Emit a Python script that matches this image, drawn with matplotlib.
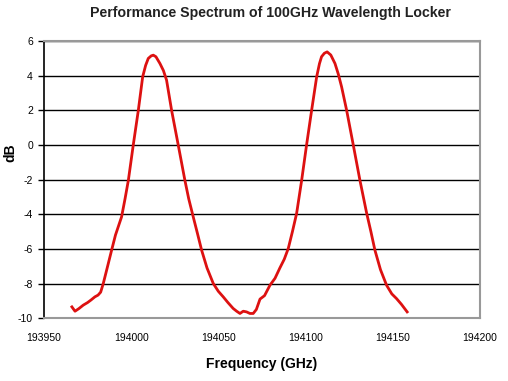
import matplotlib.pyplot as plt

plt.rcParams['font.family'] = ['Liberation Sans', 'DejaVu Sans']
plt.rcParams['axes.unicode_minus'] = False

# frequency (GHz) and response (dB)
freq = [193966, 193967.8, 193970, 193972.5, 193975, 193977, 193979.2, 193981, 193982.5, 193984,
        193986, 193988.8, 193991, 193994.5, 193996.5, 193998.4, 194001.2, 194004.1, 194006.6,
        194008.3, 194009.8, 194011.5, 194012.7, 194014.2, 194016.5, 194018.5, 194020.3, 194023.2,
        194027, 194030.8, 194033, 194035.6, 194038, 194040.4, 194043.5, 194047.1, 194050,
        194052.8, 194055.5, 194058.5, 194060.5, 194062.4, 194064.3, 194066.2, 194068.1, 194070,
        194071.8, 194073.9, 194076.5, 194079.6, 194082.5, 194085.3, 194087.8, 194090.1, 194092.5,
        194094.9, 194097.8, 194100.6, 194103.5, 194106.4, 194108, 194109.2, 194110.8, 194112.4,
        194114.5, 194116.9, 194118.8, 194120.7, 194123.6, 194127.4, 194131.2, 194135.1, 194137.5,
        194139.8, 194143, 194146.5, 194149.5, 194152.2, 194155, 194158.3]
level = [-9.35, -9.6, -9.45, -9.25, -9.1, -8.95, -8.77, -8.67, -8.5, -8.0,
         -7.2, -6.07, -5.2, -4.15, -3.1, -2.03, 0.0, 2.0, 3.94,
         4.6, 5.0, 5.15, 5.19, 5.1, 4.71, 4.3, 3.75, 2.0,
         0.0, -2.03, -3.1, -4.15, -5.1, -6.07, -7.1, -8.0, -8.45,
         -8.77, -9.1, -9.44, -9.6, -9.73, -9.6, -9.64, -9.73, -9.73,
         -9.5, -8.9, -8.7, -8.1, -7.7, -7.1, -6.6, -5.98, -5.0,
         -3.95, -2.03, 0.0, 2.0, 3.94, 4.7, 5.1, 5.3, 5.38,
         5.2, 4.71, 4.1, 3.36, 2.0, 0.0, -2.03, -3.95, -5.0,
         -6.07, -7.2, -8.1, -8.6, -8.87, -9.2, -9.64]

fig = plt.figure(figsize=(5.08, 3.81), dpi=100)
ax = fig.add_axes([0.0866, 0.165, 0.858, 0.727])

ax.plot(freq, level, color='#dd1111', linewidth=2)

ax.set_xlim(193950, 194200)
ax.set_ylim(-10, 6)
ax.set_xticks(range(193950, 194201, 50))
ax.set_yticks(range(-10, 7, 2))
ax.yaxis.grid(True, color='black', linewidth=1)
ax.set_axisbelow(True)

for side in ['top', 'right', 'bottom']:
    ax.spines[side].set_color('#999999')
    ax.spines[side].set_linewidth(1.5)
ax.spines['left'].set_color('black')
ax.spines['left'].set_linewidth(1.2)

ax.tick_params(axis='y', labelsize=7.5, length=4, direction='out', width=1, pad=4)
ax.tick_params(axis='x', labelsize=7.5, length=0, pad=11)

ax.set_xlabel('Frequency (GHz)', fontsize=10, fontweight='bold', labelpad=10)
fig.text(10 / 508, 1 - 153 / 381, 'dB', rotation=90, ha='center', va='center',
         fontsize=10, fontweight='bold')
fig.text(0.532, 1 - 13 / 381, 'Performance Spectrum of 100GHz Wavelength Locker',
         ha='center', va='center', fontsize=10.2, fontweight='bold', color='#222222')

fig.savefig('out.png', dpi=100)
